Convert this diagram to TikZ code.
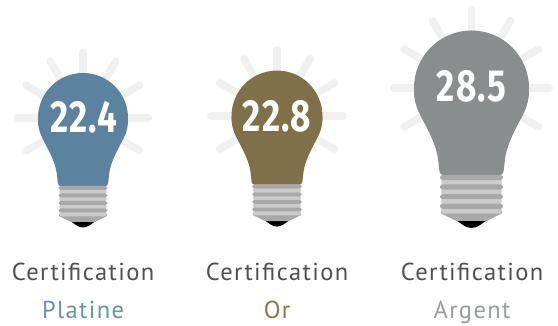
\documentclass[tikz,border=0pt]{standalone}
\usepackage{fontspec}
\setmainfont[LetterSpace=5.6]{PT Sans}
\newfontfamily\numfont[LetterSpace=3]{Fira Sans}
\definecolor{cplat}{HTML}{5B83A0}
\definecolor{cor}{HTML}{80704A}
\definecolor{carg}{HTML}{8A8D8E}
\definecolor{tplat}{HTML}{6A92AC}
\definecolor{tor}{HTML}{8A784E}
\definecolor{targ}{HTML}{9A9D9E}
\definecolor{tgrey}{HTML}{505050}
\definecolor{rayc}{HTML}{F0F0F0}
\definecolor{lightb}{HTML}{CBCBCB}
\definecolor{darkb}{HTML}{A8A8A8}
\tikzset{
  raystyle/.style={draw=rayc,line width=7.5pt,line cap=round},
  valuetext/.style={text=white,font=\numfont\bfseries\fontsize{45}{45}\selectfont,xscale=0.78,inner sep=0},
  labeltext/.style={font=\fontsize{24.5}{28}\selectfont,inner sep=0,anchor=base},
}
% #1 cx, #2 cy, #3 scale, #4 colour, #5 ray end
\newcommand{\lamp}[5]{%
\begin{scope}[shift={(#1,#2)},x=#3pt,y=-#3pt]
  \foreach \a in {-120,-90,-60,-30,0,30,60,90,120}
    \draw[raystyle] ({40*sin(\a)},{-40*cos(\a)}) -- ({#5*sin(\a)},{-#5*cos(\a)});
  \fill[#4] (0,0) circle[radius=45];
  \fill[#4] (-45,0) .. controls (-45,8) and (-44,13) .. (-41.3,18.7)
    .. controls (-37,28) and (-28,42) .. (-26.3,55)
    .. controls (-25.6,60) and (-25.5,64) .. (-24.8,66)
    .. controls (-24.5,67.5) and (-23.5,68) .. (-22,68)
    -- (22,68) .. controls (23.5,68) and (24.5,67.5) .. (24.8,66)
    .. controls (25.5,64) and (25.6,60) .. (26.3,55)
    .. controls (28,42) and (37,28) .. (41.3,18.7)
    .. controls (44,13) and (45,8) .. (45,0) -- cycle;
  \fill[black] (-12,103.5) -- (12,103.5) .. controls (8,106) and (5,109.5) .. (0,109.5) .. controls (-5,109.5) and (-8,106) .. (-12,103.5) -- cycle;
  \fill[darkb] (-24,96) -- (24,96) -- (24,98) -- (12,104) -- (-12,104) -- (-24,98) -- cycle;
  \foreach \y in {68,75.5,83,90.5}{
    \fill[lightb,rounded corners=1.5] (-23.6,\y+3.2) rectangle (23.6,\y+7.8);
    \fill[darkb,rounded corners=1.8] (-24.5,\y) rectangle (24.5,\y+4);}
\end{scope}}
\begin{document}
\begin{tikzpicture}[x=1pt,y=-1pt]
\useasboundingbox (0,0) rectangle (558,326);
\fill[white] (0,0) rectangle (558,326);
\lamp{83}{118}{1}{cplat}{65.5}
\lamp{277}{116}{1.01}{cor}{65.5}
\lamp{471.5}{88}{1.278}{carg}{61}
\node[valuetext] (v1) at (83.5,117) {22.4};
\node[valuetext] (v2) at (277,116) {22.8};
\node[valuetext] (v3) at (471.5,86) {28.5};
\node[labeltext,text=tgrey] (c1) at (83,281) {Certification};
\node[labeltext,text=tgrey] (c2) at (277,281) {Certification};
\node[labeltext,text=tgrey] (c3) at (472,281) {Certification};
\node[labeltext,text=tplat] (p1) at (83,319) {Platine};
\node[labeltext,text=tor] (p2) at (277,319) {Or};
\node[labeltext,text=targ] (p3) at (472,319) {Argent};
\end{tikzpicture}
\end{document}
